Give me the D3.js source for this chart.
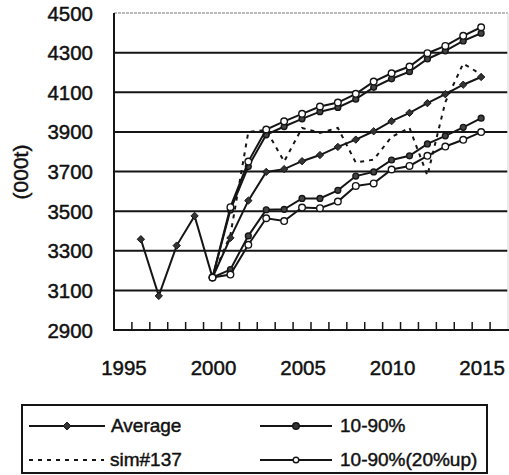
<!DOCTYPE html>
<html><head><meta charset="utf-8">
<script src="https://cdn.jsdelivr.net/npm/d3@7"></script>
<style>
body{margin:0;background:#fff}
svg{display:block}
text{font-family:"Liberation Sans",Arial,sans-serif;fill:#111;stroke:#111;stroke-width:0.45px}
</style>
</head><body>
<svg id="c" width="509" height="475"></svg>
<script>
// Categories (x axis): years; 2016 is an empty trailing category
const years = [1995,1996,1997,1998,1999,2000,2001,2002,2003,2004,2005,2006,2007,2008,2009,2010,2011,2012,2013,2014,2015,2016];
const yearLabels = [1995,2000,2005,2010,2015];
const yTicks = [2900,3100,3300,3500,3700,3900,4100,4300,4500];

// Series values, aligned with `years` (null = no value)
const average = [null,3358,3072,3326,3476,3165,3365,3553,3698,3712,3752,3783,3824,3861,3903,3954,3996,4045,4090,4138,4177,null];
const sim137  = [null,null,null,null,null,3165,3380,3900,3910,3750,3920,3895,3920,3745,3760,3875,3920,3680,4050,4245,4190,null];
const p10_90_hi = [null,null,null,null,null,3165,3506,3725,3885,3927,3966,4002,4023,4065,4125,4168,4204,4268,4309,4359,4398,null];
const p10_90_lo = [null,null,null,null,null,3165,3205,3375,3507,3509,3564,3564,3605,3677,3698,3758,3779,3839,3880,3923,3969,null];
const up20_hi   = [null,null,null,null,null,3165,3520,3750,3912,3953,3991,4028,4048,4092,4154,4196,4230,4297,4334,4385,4428,null];
const up20_lo   = [null,null,null,null,null,3165,3180,3330,3464,3450,3518,3515,3548,3627,3640,3710,3728,3779,3826,3860,3899,null];

const legendLabels = ["Average","10-90%","sim#137","10-90%(20%up)"];
const yTitle = "(000t)";

const svg = d3.select("#c");
const mLeft = 114, mRight = 508, mTop = 13, mBottom = 330;
const ink = "#151515";

const x = d3.scaleBand().domain(years).range([mLeft, mRight]).padding(0);
const y = d3.scaleLinear().domain([2900, 4500]).range([mBottom, mTop]);
const cx = d => x(d) + x.bandwidth()/2;

// grid lines
svg.append("g").selectAll("line").data(yTicks.filter(t => t > 2900 && t < 4500)).join("line")
  .attr("x1", mLeft).attr("x2", mRight).attr("y1", d => y(d)).attr("y2", d => y(d))
  .attr("stroke", ink).attr("stroke-width", 2);
// top & right border (light)
svg.append("line").attr("x1", mLeft).attr("x2", mRight).attr("y1", y(4500)).attr("y2", y(4500))
  .attr("stroke", "#bbb").attr("stroke-width", 2).attr("stroke-dasharray", "3,1");
svg.append("line").attr("x1", mRight).attr("x2", mRight).attr("y1", mTop).attr("y2", mBottom)
  .attr("stroke", "#e4e4e4").attr("stroke-width", 1.5);

// axes lines
svg.append("line").attr("x1", mLeft).attr("x2", mLeft).attr("y1", mTop).attr("y2", mBottom + 1)
  .attr("stroke", ink).attr("stroke-width", 2);
svg.append("line").attr("x1", mLeft).attr("x2", mRight + 1).attr("y1", mBottom).attr("y2", mBottom)
  .attr("stroke", ink).attr("stroke-width", 2);

// x ticks at category boundaries (pointing inward)
svg.append("g").selectAll("line").data(years.slice(1)).join("line")
  .attr("x1", d => x(d)).attr("x2", d => x(d))
  .attr("y1", mBottom).attr("y2", mBottom - 8)
  .attr("stroke", ink).attr("stroke-width", 1.5);

// y tick labels
svg.append("g").selectAll("text").data(yTicks).join("text")
  .attr("x", 93).attr("y", d => y(d) + 7.5)
  .attr("text-anchor", "end").attr("font-size", 20.5)
  .text(d => d);

// x labels
svg.append("g").selectAll("text").data(yearLabels).join("text")
  .attr("x", d => cx(d) + 1).attr("y", 375)
  .attr("text-anchor", "middle").attr("font-size", 20.5)
  .text(d => d);

// y title
svg.append("text").attr("transform", "translate(28,172) rotate(-90)")
  .attr("text-anchor", "middle").attr("font-size", 21).text(yTitle);

// series
const line = d3.line().defined(d => d.v != null).x(d => cx(d.yr)).y(d => y(d.v));
const pts = arr => years.map((yr, i) => ({yr, v: arr[i]}));

function drawLine(arr, dash) {
  svg.append("path").datum(pts(arr)).attr("d", line)
    .attr("fill", "none").attr("stroke", ink).attr("stroke-width", 2)
    .attr("stroke-dasharray", dash || null);
}
function drawDiamonds(arr) {
  svg.append("g").selectAll("path").data(pts(arr).filter(d => d.v != null)).join("path")
    .attr("d", d3.symbol(d3.symbolDiamond2, 34))
    .attr("transform", d => `translate(${cx(d.yr)},${y(d.v)})`)
    .attr("fill", "#333").attr("stroke", ink).attr("stroke-width", 1);
}
function drawCircles(arr, open) {
  svg.append("g").selectAll("circle").data(pts(arr).filter(d => d.v != null)).join("circle")
    .attr("cx", d => cx(d.yr)).attr("cy", d => y(d.v)).attr("r", open ? 3.3 : 2.9)
    .attr("fill", open ? "#fff" : "#444").attr("stroke", ink).attr("stroke-width", 1.4);
}

drawLine(sim137, "4,5");
drawLine(average); drawDiamonds(average);
drawLine(p10_90_lo); drawCircles(p10_90_lo, false);
drawLine(up20_lo); drawCircles(up20_lo, true);
drawLine(p10_90_hi); drawCircles(p10_90_hi, false);
drawLine(up20_hi); drawCircles(up20_hi, true);

// legend
const lg = svg.append("g");
lg.append("rect").attr("x", 22).attr("y", 405).attr("width", 465).attr("height", 68)
  .attr("fill", "#fff").attr("stroke", ink).attr("stroke-width", 2);
const rows = [
  {x1: 29, x2: 105, mx: 67, tx: 111, ty: 432, label: legendLabels[0], kind: "diamond"},
  {x1: 260, x2: 332, mx: 296, tx: 340, ty: 432, label: legendLabels[1], kind: "filled"},
  {x1: 29, x2: 104, mx: null, tx: 110, ty: 466, label: legendLabels[2], kind: "dash"},
  {x1: 260, x2: 332, mx: 296, tx: 340, ty: 466, label: legendLabels[3], kind: "open"}
];
rows.forEach(r => {
  const ly = r.ty - 6;
  lg.append("line").attr("x1", r.x1).attr("x2", r.x2).attr("y1", ly).attr("y2", ly)
    .attr("stroke", ink).attr("stroke-width", 2)
    .attr("stroke-dasharray", r.kind === "dash" ? "4,5" : null);
  if (r.kind === "diamond") {
    lg.append("path").attr("d", d3.symbol(d3.symbolDiamond2, 40))
      .attr("transform", `translate(${r.mx},${ly})`).attr("fill", "#333").attr("stroke", ink);
  } else if (r.kind === "filled") {
    lg.append("circle").attr("cx", r.mx).attr("cy", ly).attr("r", 3.3)
      .attr("fill", "#333").attr("stroke", ink).attr("stroke-width", 1.4);
  } else if (r.kind === "open") {
    lg.append("circle").attr("cx", r.mx).attr("cy", ly).attr("r", 2.8)
      .attr("fill", "#fff").attr("stroke", ink).attr("stroke-width", 1.4);
  }
  lg.append("text").attr("x", r.tx).attr("y", r.ty).attr("font-size", 19).text(r.label);
});
</script>
</body></html>
